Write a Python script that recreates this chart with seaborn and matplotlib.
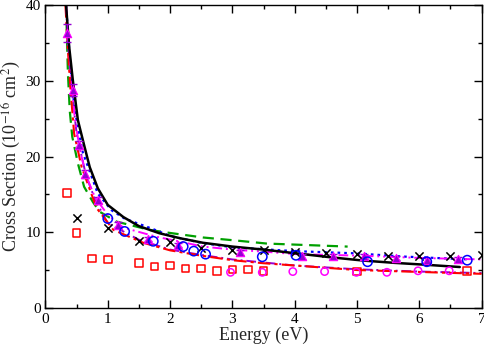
import matplotlib
matplotlib.use("Agg")
import matplotlib.pyplot as plt
import seaborn as sns
import numpy as np
from matplotlib.ticker import MultipleLocator

# ---- data ----
black_E = [0.33, 0.38, 0.44, 0.52, 0.62, 0.71, 0.84, 1.0, 1.25, 1.5, 1.83, 2.16, 2.53, 3.0, 3.5, 4.03, 4.56, 5.1, 5.6, 6.1, 6.65]
black_v = [40, 34.5, 30, 24.8, 21.5, 18.6, 15.8, 13.6, 12.0, 10.8, 9.86, 9.2, 8.6, 8.1, 7.7, 7.2, 6.7, 6.25, 5.95, 5.7, 5.4]

green_E = [0.33, 0.36, 0.39, 0.43, 0.52, 0.62, 0.76, 0.87, 1.14, 1.67, 2.0, 2.53, 3.06, 3.55, 4.2, 4.85]
green_v = [40, 31, 26.0, 22.6, 19.1, 16.0, 14.0, 12.7, 11.4, 10.3, 9.9, 9.3, 8.9, 8.5, 8.3, 8.1]

blue_E = [0.33, 0.4, 0.47, 0.6, 0.84, 1.06, 1.27, 1.73, 2.0, 2.5, 3.0, 3.5, 4.0, 5.0, 5.7, 6.8]
blue_v = [40, 32, 26, 20.5, 15.1, 12.9, 11.8, 10.4, 9.5, 8.6, 8.0, 7.75, 7.5, 7.2, 6.8, 6.4]

red_E = [0.32, 0.36, 0.4, 0.46, 0.58, 0.82, 1.09, 1.57, 2.0, 2.5, 3.0, 3.5, 4.0, 5.0, 6.0, 7.0]
red_v = [40, 34, 29, 23, 18.6, 13.2, 10.3, 8.6, 7.6, 6.9, 6.3, 5.9, 5.6, 5.0, 4.75, 4.5]

violet_E = [0.33, 0.37, 0.42, 0.5, 0.65, 0.8, 1.0, 1.5, 2.0, 2.5, 3.0, 3.5, 4.0, 5.0, 6.0, 7.0]
violet_v = [40, 34, 29, 23, 17.5, 14.2, 11.2, 9.0, 7.7, 7.0, 6.4, 6.0, 5.6, 5.1, 4.8, 4.6]

magenta_E = [0.33, 0.37, 0.4, 0.47, 0.55, 0.65, 0.8, 1.0, 1.25, 1.78, 2.16, 2.53, 3.0, 3.55, 4.03, 5.05, 6.0, 7.0]
magenta_v = [40, 35, 32, 25, 21, 17.5, 14.5, 12.3, 10.6, 9.4, 8.75, 8.1, 7.7, 7.4, 7.1, 6.9, 6.6, 6.4]

cross_E = [0.5, 1.0, 1.5, 2.0, 2.5, 3.0, 3.5, 4.0, 4.5, 5.0, 5.5, 6.0, 6.5, 7.0]
cross_v = [11.9, 10.5, 8.9, 8.7, 7.9, 7.7, 7.6, 7.4, 7.2, 7.1, 6.9, 6.9, 6.9, 7.0]

square_E = [0.35, 0.5, 0.75, 1.0, 1.5, 1.75, 2.0, 2.25, 2.5, 2.75, 3.0, 3.25, 3.5, 5.0, 6.77]
square_v = [15.2, 9.9, 6.5, 6.4, 5.9, 5.45, 5.6, 5.2, 5.2, 4.9, 5.05, 5.05, 4.9, 4.8, 4.9]

bcirc_E = [1.0, 1.27, 1.73, 2.21, 2.38, 2.57, 3.48, 4.02, 5.17, 6.12, 6.77]
bcirc_v = [11.8, 10.1, 8.8, 8.1, 7.5, 7.1, 6.75, 6.95, 6.1, 6.1, 6.3]

pcirc_E = [2.97, 3.48, 3.97, 4.48, 4.99, 5.48, 5.98, 6.48]
pcirc_v = [4.7, 4.7, 4.8, 4.8, 4.7, 4.7, 4.9, 4.9]

tri_E = [0.35, 0.44, 0.53, 0.64, 0.84, 1.17, 1.65, 2.13, 3.12, 4.12, 4.62, 5.12, 5.63, 6.12, 6.62]
tri_v = [36.3, 28.8, 21.5, 17.7, 14.3, 11.0, 9.1, 8.3, 7.35, 6.8, 6.8, 6.85, 6.6, 6.35, 6.45]
tri_err = [1.2, 0.8, 0.5, 0.5, 0.4, 0.35, 0.3, 0.3, 0.3, 0.3, 0.3, 0.3, 0.3, 0.3, 0.3]

x_ticks = [0, 1, 2, 3, 4, 5, 6, 7]
y_ticks = [0, 10, 20, 30, 40]

# ---- style ----
sns.set_theme(style="ticks")
plt.rcParams['font.family'] = ['Liberation Serif', 'DejaVu Serif']
plt.rcParams['mathtext.fontset'] = 'stix'

fig = plt.figure(figsize=(4.84, 3.44), dpi=100)
ax = fig.add_axes([0.094, 0.105, 0.901, 0.880])

VIOLET = '#9400D3'
MAGENTA = '#FF00FF'
GREEN = '#00A000'

sns.lineplot(x=green_E, y=green_v, ax=ax, color=GREEN, lw=1.6, sort=False, estimator=None)
ax.lines[-1].set_dashes((5, 3))
sns.lineplot(x=blue_E, y=blue_v, ax=ax, color='blue', lw=1.6, sort=False, estimator=None)
ax.lines[-1].set_dashes((1.2, 1.8))
sns.lineplot(x=violet_E, y=violet_v, ax=ax, color=VIOLET, lw=1.4, sort=False, estimator=None)
ax.lines[-1].set_dashes((5, 2, 1, 2))
sns.lineplot(x=red_E, y=red_v, ax=ax, color='red', lw=1.5, sort=False, estimator=None)
ax.lines[-1].set_dashes((6, 2, 1.5, 2))
sns.lineplot(x=magenta_E, y=magenta_v, ax=ax, color=MAGENTA, lw=1.4, sort=False, estimator=None)
ax.lines[-1].set_dashes((5, 2, 1, 2, 1, 2))
sns.lineplot(x=black_E, y=black_v, ax=ax, color='black', lw=1.8, sort=False, estimator=None)

# markers
ax.errorbar(tri_E, tri_v, yerr=tri_err, fmt='none', ecolor=VIOLET, elinewidth=1.0, capsize=3, zorder=3)
sns.scatterplot(x=tri_E, y=tri_v, ax=ax, marker='^', s=36, color=VIOLET, edgecolor=MAGENTA, linewidth=0.8, zorder=4)
sns.scatterplot(x=cross_E, y=cross_v, ax=ax, marker='x', s=35, color='black', linewidth=1.1, zorder=4)
sns.scatterplot(x=square_E, y=square_v, ax=ax, marker='s', s=30, facecolor='none', edgecolor='red', linewidth=1.1, zorder=4)
sns.scatterplot(x=bcirc_E, y=bcirc_v, ax=ax, marker='o', s=45, facecolor='none', edgecolor='blue', linewidth=1.1, zorder=4)
sns.scatterplot(x=pcirc_E, y=pcirc_v, ax=ax, marker='o', s=28, facecolor='none', edgecolor=MAGENTA, linewidth=1.1, zorder=4)

ax.set_xlim(0, 7)
ax.set_ylim(0, 40)
ax.set_xticks(x_ticks)
ax.set_yticks(y_ticks)
ax.xaxis.set_minor_locator(MultipleLocator(0.5))
ax.yaxis.set_minor_locator(MultipleLocator(5))
ax.tick_params(which='both', direction='in', top=True, right=True, labelsize=11, colors='black', width=1.0)
ax.tick_params(which='major', length=6)
ax.tick_params(which='minor', length=3)
for sp in ax.spines.values():
    sp.set_visible(True)
    sp.set_color('black')
    sp.set_linewidth(1.0)

ax.set_xlabel('Energy (eV)', fontsize=13, labelpad=1)
ax.set_ylabel('Cross Section (10$^{-16}$ cm$^{2}$)', fontsize=13, labelpad=2)

fig.savefig('out.png', dpi=100)
